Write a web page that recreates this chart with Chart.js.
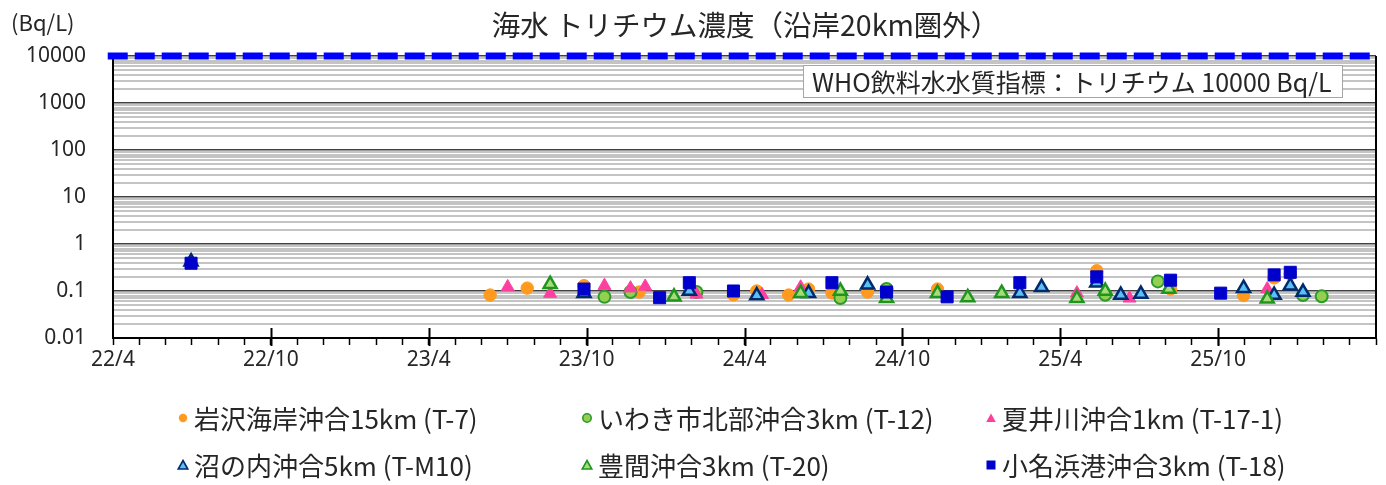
<!DOCTYPE html>
<html lang="ja">
<head>
<meta charset="utf-8">
<script src="https://cdn.jsdelivr.net/npm/chart.js@4.4.1/dist/chart.umd.min.js"></script>
<style>
  html, body { margin: 0; padding: 0; background: #fff; }
  #wrap { position: relative; width: 1386px; height: 485px; overflow: hidden;
          font-family: "Noto Sans CJK JP", "Noto Sans", sans-serif; color: #262626; }
  #chart { position: absolute; left: 0; top: 0; }
  .title { position: absolute; left: 113px; width: 1265px; top: 4px; text-align: center;
           font-size: 28.5px; line-height: 40px; white-space: nowrap; }
  .unit { position: absolute; left: 11px; top: 5px; font-size: 22px; line-height: 32px; }
  .who { position: absolute; left: 803px; top: 65px; width: 540px; height: 33px; box-sizing: border-box;
         border: 1.5px solid #a6a6a6; background: #fff; font-size: 25px; line-height: 30px;
         padding-left: 8px; white-space: nowrap; }
  .leg { position: absolute; display: flex; align-items: center; font-size: 26px; line-height: 34px;
         white-space: nowrap; }
  .leg svg { margin-right: 5px; }
</style>
</head>
<body>
<div id="wrap">
  <canvas id="chart" width="1386" height="485"></canvas>
  <div class="title">海水 トリチウム濃度（沿岸20km圏外）</div>
  <div class="unit">(Bq/L)</div>
  <div class="who">WHO飲料水水質指標：トリチウム 10000 Bq/L</div>
</div>
<script>
// x axis labels every 6 months, starting 2022/4
const xTickLabels = ['22/4', '22/10', '23/4', '23/10', '24/4', '24/10', '25/4', '25/10'];
const yTickLabels = [0.01, 0.1, 1, 10, 100, 1000, 10000];
const whoLimit = 10000;

const seriesNames = [
    '岩沢海岸沖合15km (T-7)',
    'いわき市北部沖合3km (T-12)',
    '夏井川沖合1km (T-17-1)',
    '沼の内沖合5km (T-M10)',
    '豊間沖合3km (T-20)',
    '小名浜港沖合3km (T-18)'
];

const t7Dates = ['2023-06-11', '2023-07-24', '2023-09-28', '2023-12-01', '2024-03-19', '2024-04-15', '2024-05-22', '2024-06-14',
    '2024-07-11', '2024-08-22', '2024-11-11', '2025-05-13', '2025-08-07', '2025-10-31', '2025-12-05', '2025-12-24'];
const t7Values = [0.082, 0.115, 0.13, 0.095, 0.083, 0.10, 0.082, 0.11, 0.091, 0.095, 0.11, 0.27, 0.11, 0.08, 0.19, 0.23];

const t12Dates = ['2023-10-22', '2023-11-21', '2024-02-06', '2024-07-21', '2024-09-13', '2025-05-23', '2025-07-23', '2026-01-08', '2026-01-30'];
const t12Values = [0.075, 0.095, 0.095, 0.071, 0.11, 0.083, 0.16, 0.082, 0.077];

const t17Dates = ['2023-07-01', '2023-08-20', '2023-10-22', '2023-11-21', '2023-12-08', '2024-02-06', '2024-04-21', '2024-06-05',
    '2025-04-20', '2025-06-20', '2025-11-27'];
const t17Values = [0.122, 0.088, 0.13, 0.115, 0.125, 0.085, 0.083, 0.12, 0.09, 0.07, 0.11];

const tm10Dates = ['2022-06-30', '2023-09-28', '2024-01-29', '2024-04-15', '2024-06-14', '2024-08-22', '2025-02-14', '2025-03-10',
    '2025-05-13', '2025-06-10', '2025-07-03', '2025-10-31', '2025-12-05', '2025-12-24', '2026-01-08'];
const tm10Values = [0.42, 0.09, 0.10, 0.08, 0.09, 0.135, 0.09, 0.12, 0.15, 0.082, 0.086, 0.115, 0.082, 0.13, 0.095];

const t20Dates = ['2023-08-20', '2024-01-11', '2024-06-05', '2024-07-21', '2024-09-13', '2024-11-11', '2024-12-16', '2025-01-25',
    '2025-04-20', '2025-05-23', '2025-08-05', '2025-11-27'];
const t20Values = [0.14, 0.075, 0.09, 0.10, 0.07, 0.09, 0.073, 0.09, 0.07, 0.10, 0.11, 0.068];

const t18Dates = ['2022-06-30', '2023-09-28', '2023-12-25', '2024-01-29', '2024-03-19', '2024-07-11', '2024-09-13', '2024-11-22',
    '2025-02-14', '2025-05-13', '2025-08-07', '2025-10-04', '2025-12-05', '2025-12-24'];
const t18Values = [0.39, 0.11, 0.072, 0.15, 0.10, 0.15, 0.095, 0.075, 0.15, 0.20, 0.17, 0.09, 0.22, 0.25];

// months since 2022/4/1
function toMonths(s) {
    const [y, m, d] = s.split('-').map(Number);
    const days = new Date(y, m, 0).getDate();
    return (y - 2022) * 12 + (m - 4) + (d - 1) / days;
}
const points = (dates, values) => dates.map((d, i) => ({x: toMonths(d), y: values[i]}));

const styles = [
    {shape: 'circle', radius: 6.2, fill: '#FF9A1F', stroke: '#FF9A1F', bw: 1},
    {shape: 'circle', radius: 6, fill: '#92D050', stroke: '#2E9A2E', bw: 2},
    {shape: 'triangle', radius: 7.5, fill: '#FF3FA0', stroke: '#FF3FA0', bw: 1},
    {shape: 'triangle', radius: 7.5, fill: '#5BC0F5', stroke: '#002A6E', bw: 2.5},
    {shape: 'triangle', radius: 7.5, fill: '#A8DC7A', stroke: '#1E961E', bw: 2.5},
    {shape: 'rect', radius: 8.5, fill: '#0000CC', stroke: '#0000CC', bw: 1}
];
const allData = [
    points(t7Dates, t7Values), points(t12Dates, t12Values), points(t17Dates, t17Values),
    points(tm10Dates, tm10Values), points(t20Dates, t20Values), points(t18Dates, t18Values)
];

const xMax = xTickLabels.length * 6;

const datasets = allData.map((data, i) => ({
    type: 'scatter',
    label: seriesNames[i],
    data: data,
    pointStyle: styles[i].shape,
    pointRadius: styles[i].radius,
    backgroundColor: styles[i].fill,
    borderColor: styles[i].stroke,
    pointBorderWidth: styles[i].bw,
    order: 5 - i
}));
datasets.push({
    type: 'line',
    label: 'WHO',
    data: [{x: -0.2, y: whoLimit}, {x: xMax, y: whoLimit}],
    borderColor: '#0000FF',
    borderWidth: 7,
    borderDash: [20, 7],
    pointRadius: 0,
    clip: false,
    order: -1
});

const isDecade = v => yTickLabels.some(t => Math.abs(t - v) / t < 1e-6);

// right frame line and the upper half of the 6-month ticks
const framePlugin = {
    id: 'frame',
    afterDraw(chart) {
        const {ctx, chartArea: a, scales: {x}} = chart;
        ctx.save();
        ctx.strokeStyle = '#000';
        ctx.lineWidth = 2;
        ctx.beginPath();
        ctx.moveTo(a.right, a.top);
        ctx.lineTo(a.right, a.bottom + 1);
        for (let m = 6; m < xMax; m += 6) {
            const px = Math.round(x.getPixelForValue(m)) + 0.5;
            ctx.moveTo(px, a.bottom - 10);
            ctx.lineTo(px, a.bottom + 8);
        }
        ctx.stroke();
        ctx.restore();
    }
};

new Chart(document.getElementById('chart'), {
    data: {datasets: datasets},
    options: {
        responsive: false,
        animation: false,
        layout: {padding: {top: 56, right: 8, left: 0, bottom: 0}},
        plugins: {legend: {display: false}, tooltip: {enabled: false}},
        scales: {
            x: {
                type: 'linear',
                min: 0,
                max: xMax,
                afterFit: s => { s.height = 147; },
                afterBuildTicks: s => {
                    const t = [];
                    for (let m = 0; m <= xMax; m++) t.push({value: m});
                    s.ticks = t;
                },
                ticks: {
                    autoSkip: false,
                    maxRotation: 0,
                    padding: 2,
                    color: '#262626',
                    font: {family: 'Noto Sans', size: 21},
                    callback: v => (v % 6 === 0 && v / 6 < xTickLabels.length) ? xTickLabels[v / 6] : ''
                },
                grid: {drawOnChartArea: false, drawTicks: true, tickLength: 7, tickColor: '#000', tickWidth: 1.5},
                border: {color: '#000', width: 2}
            },
            y: {
                type: 'logarithmic',
                min: yTickLabels[0],
                max: yTickLabels[yTickLabels.length - 1],
                afterFit: s => { s.width = 113; },
                afterBuildTicks: s => {
                    const t = [];
                    yTickLabels.forEach((base, i) => {
                        if (i === yTickLabels.length - 1) { t.push({value: base}); return; }
                        for (let k = 1; k <= 9; k++) t.push({value: Number((base * k).toPrecision(6))});
                    });
                    s.ticks = t;
                },
                ticks: {
                    autoSkip: false,
                    padding: 27,
                    color: '#262626',
                    font: {family: 'Noto Sans', size: 21},
                    callback: v => isDecade(v) ? String(v) : ''
                },
                grid: {
                    drawTicks: false,
                    color: c => isDecade(c.tick.value) ? '#404040' : '#c4c4c4',
                    lineWidth: c => isDecade(c.tick.value) ? 1.5 : 2
                },
                border: {color: '#000', width: 2}
            }
        }
    },
    plugins: [framePlugin]
});

// legend in two rows of three
const legendX = [183, 587, 991];
const legendY = [418, 465];
const wrap = document.getElementById('wrap');
seriesNames.forEach((name, i) => {
    const st = styles[i];
    let shape;
    if (st.shape === 'circle') shape = `<circle cx="6" cy="6" r="4.2" fill="${st.fill}" stroke="${st.stroke}" stroke-width="${st.bw > 1 ? 1.6 : 0}"/>`;
    else if (st.shape === 'triangle') shape = `<polygon points="6,1.5 10.8,10 1.2,10" fill="${st.fill}" stroke="${st.stroke}" stroke-width="${st.bw > 1 ? 1.6 : 0}"/>`;
    else shape = `<rect x="1.5" y="1.5" width="9" height="9" fill="${st.fill}"/>`;
    const el = document.createElement('div');
    el.className = 'leg';
    el.style.left = (legendX[i % 3] - 6) + 'px';
    el.style.top = (legendY[Math.floor(i / 3)] - 17) + 'px';
    el.innerHTML = `<svg width="12" height="12">${shape}</svg><span>${name}</span>`;
    wrap.appendChild(el);
});
</script>
</body>
</html>
